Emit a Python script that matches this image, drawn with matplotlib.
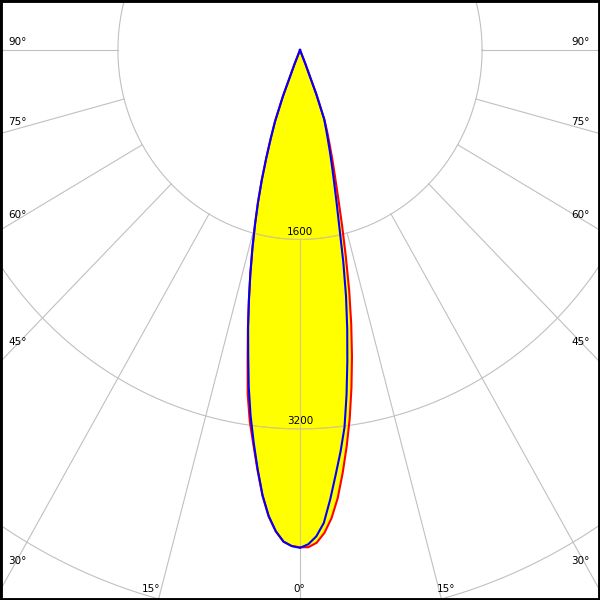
import numpy as np
import matplotlib
matplotlib.use("Agg")
import matplotlib.pyplot as plt

# ---- data (luminous intensity, cd) ----
gamma = [0, 1, 2, 3, 4, 5, 6, 7, 8, 9, 10, 11, 12, 13, 14, 15, 16, 17, 18, 19,
         20, 21, 22, 23, 25, 30, 40, 50, 60, 70, 80, 90]
red_left = [4200, 4190, 4155, 4070, 3950, 3780, 3570, 3360, 3170, 2940, 2650, 2400,
            2160, 1940, 1730, 1530, 1340, 1150, 960, 790, 640, 420, 130, 0,
            0, 0, 0, 0, 0, 0, 0, 0]
red_right = [4215, 4200, 4165, 4085, 3965, 3800, 3590, 3370, 3140, 2890, 2630, 2360,
             2080, 1790, 1530, 1300, 1120, 980, 850, 740, 630, 410, 125, 0,
             0, 0, 0, 0, 0, 0, 0, 0]
blue_left = [4205, 4190, 4155, 4070, 3945, 3775, 3560, 3340, 3120, 2880, 2620, 2390,
             2160, 1940, 1730, 1530, 1340, 1150, 960, 790, 640, 420, 130, 0,
             0, 0, 0, 0, 0, 0, 0, 0]
blue_right = [4200, 4175, 4110, 4000, 3805, 3600, 3410, 3210, 2940, 2660, 2390, 2120,
              1830, 1540, 1330, 1160, 1020, 900, 790, 700, 620, 400, 120, 0,
              0, 0, 0, 0, 0, 0, 0, 0]
ring_values = [1600, 3200, 4800]
ring_labels = ["1600", "3200"]
angle_ticks = [0, 15, 30, 45, 60, 75, 90]

# ---- layout ----
W = H = 600
SX, SY = 0.1138, 0.1184      # px per cd
CY = 50                      # center pixel row

fig = plt.figure(figsize=(6, 6), dpi=100)
ax = fig.add_axes([0, 0, 1, 1])
ax.set_xlim(-W / 2 / SX, W / 2 / SX)
ax.set_ylim(-(H - CY) / SY, CY / SY)
ax.set_xticks([])
ax.set_yticks([])
for s in ax.spines.values():
    s.set_color("black")
    s.set_linewidth(3.5)
    s.set_zorder(10)

grid_c = "#c0c0c0"
grid_on_fill = "#d6cc78"
glw = 0.8
t = np.linspace(0, 2 * np.pi, 721)
rmax = 20000


def draw_grid(color, zorder, clip=None):
    arts = []
    for r in ring_values:
        arts += ax.plot(r * np.cos(t), r * np.sin(t), color=color, lw=glw, zorder=zorder)
    for a in angle_ticks:
        for sgn in ([1] if a == 0 else [-1, 1]):
            ar = np.radians(a)
            arts += ax.plot([sgn * ring_values[0] * np.sin(ar), sgn * rmax * np.sin(ar)],
                            [-ring_values[0] * np.cos(ar), -rmax * np.cos(ar)],
                            color=color, lw=glw, zorder=zorder)
    if clip is not None:
        for a in arts:
            a.set_clip_path(clip)


def curve(left, right):
    g = np.radians(np.array(gamma, dtype=float))
    L = np.array(left, dtype=float)
    R = np.array(right, dtype=float)
    xl = -L * np.sin(g)
    yl = -L * np.cos(g)
    xr = R * np.sin(g)
    yr = -R * np.cos(g)
    x = np.concatenate([xl[::-1], xr[1:]])
    y = np.concatenate([yl[::-1], yr[1:]])
    return x, y


draw_grid(grid_c, 1)

rx, ry = curve(red_left, red_right)
bx, by = curve(blue_left, blue_right)
pr = ax.fill(rx, ry, color="#ffff00", lw=0, zorder=2)[0]
pb = ax.fill(bx, by, color="#ffff00", lw=0, zorder=2)[0]

draw_grid(grid_on_fill, 3, clip=pr)
draw_grid(grid_on_fill, 3, clip=pb)

ax.plot(rx, ry, color="#ff0000", lw=1.5, zorder=4, solid_joinstyle="round")
ax.plot(bx, by, color="#0000ff", lw=1.5, zorder=5, solid_joinstyle="round")

fs = 7.5
for r, lab in zip(ring_values, ring_labels):
    ax.annotate(lab, (0, -r), xytext=(0, 2), textcoords="offset points",
                ha="center", va="bottom", fontsize=fs, color="black", zorder=6)

# angle labels (pixel positions)
side_y = {90: 42, 75: 122, 60: 215, 45: 342, 30: 561}
for a, yp in side_y.items():
    ax.text(8 / W, 1 - yp / H, f"{a}°", transform=ax.transAxes, ha="left",
            va="center", fontsize=fs, zorder=6)
    ax.text(590 / W, 1 - yp / H, f"{a}°", transform=ax.transAxes, ha="right",
            va="center", fontsize=fs, zorder=6)
for a, xp in [(15, 151.5), (0, 299.5), (15, 446)]:
    ax.text(xp / W, 1 - 589 / H, f"{a}°", transform=ax.transAxes, ha="center",
            va="center", fontsize=fs, zorder=6)

fig.savefig("out.png", dpi=100)
